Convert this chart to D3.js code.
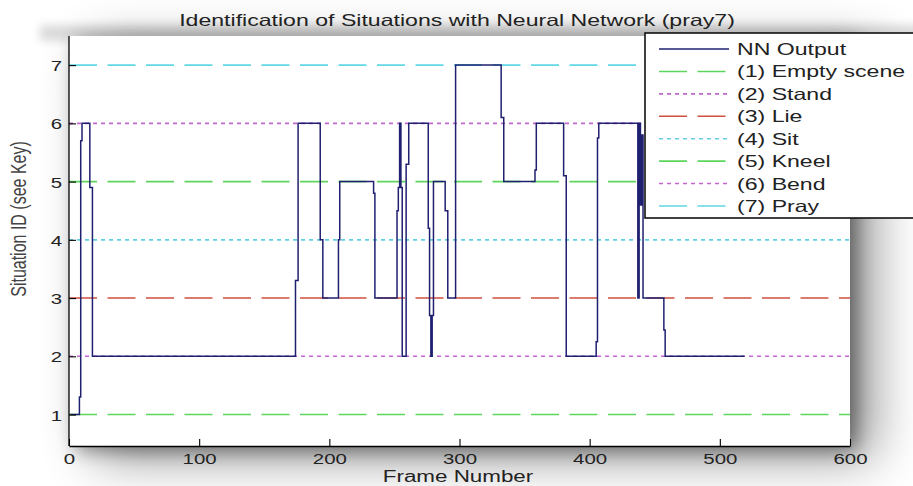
<!DOCTYPE html>
<html>
<head>
<meta charset="utf-8">
<script src="https://cdn.jsdelivr.net/npm/d3@7/dist/d3.min.js"></script>
<style>
  html, body { margin: 0; padding: 0; background: #ffffff; overflow: hidden; }
  svg { display: block; }
</style>
</head>
<body>
<svg id="chart" width="913" height="486"></svg>
<script>
// ---- data -------------------------------------------------------------
// Network output: frame where each new value starts, and that value
const frameNo = [1, 8, 9, 10, 16, 18, 174, 176, 193, 195, 207, 208, 234, 235,
  252, 253, 254, 255, 256, 259, 261, 276, 277, 278, 279, 280, 289, 291, 297,
  332, 334, 358, 359, 380, 382, 405, 406, 407, 437, 438, 439, 440, 441,
  457, 458, 519];
const nnOutput = [1, 1.3, 5.7, 6, 4.9, 2, 3.3, 6, 4, 3, 4, 5, 4.8, 3,
  4.5, 4.9, 6, 4.9, 2, 5.3, 6, 4.2, 2.7, 2, 2.7, 5, 4.5, 3, 7,
  6.1, 5, 5.2, 6, 5.1, 2, 2.25, 5.75, 6, 3, 6, 4.6, 5.8, 3,
  2.45, 2, 2];

// Reference levels, one per situation
const situationIds = [1, 2, 3, 4, 5, 6, 7];
const situationNames = ["(1) Empty scene", "(2) Stand", "(3) Lie", "(4) Sit",
  "(5) Kneel", "(6) Bend", "(7) Pray"];
const nnName = "NN Output";

const xTickValues = [0, 100, 200, 300, 400, 500, 600];
const xTickLabels = ["0", "100", "200", "300", "400", "500", "600"];
const yTickValues = [1, 2, 3, 4, 5, 6, 7];
const yTickLabels = ["1", "2", "3", "4", "5", "6", "7"];

const titleText = "Identification of Situations with Neural Network (pray7)";
const xLabelText = "Frame Number";
const yLabelText = "Situation ID (see Key)";

// ---- styles -----------------------------------------------------------
const DASH = "28,10.5", DOT = "4,4";
const refStyles = [
  { color: "#5ed65e", dash: DASH },  // empty scene
  { color: "#c466d0", dash: DOT },   // stand
  { color: "#d0503f", dash: DASH },  // lie
  { color: "#62d0e2", dash: DOT },   // sit
  { color: "#5ed65e", dash: DASH },  // kneel
  { color: "#c466d0", dash: DOT },   // bend
  { color: "#62d8e4", dash: DASH }   // pray
];
const NAVY = "#202070";
const SX = 1.4;                      // horizontal stretch of all lettering
const FONT = "'Liberation Sans', Arial, Helvetica, sans-serif";

// ---- layout -----------------------------------------------------------
const plot = { left: 69, right: 850, top: 36, bottom: 446 };
const svg = d3.select("#chart");

const x = d3.scaleLinear().domain([0, 600]).range([plot.left, plot.right]);
const y = d3.scaleLinear().domain([0.46, 7.5]).range([plot.bottom, plot.top]);

const defs = svg.append("defs");
function blurFilter(id, sd) {
  defs.append("filter").attr("id", id)
    .attr("x", "-50%").attr("y", "-50%").attr("width", "200%").attr("height", "200%")
    .append("feGaussianBlur").attr("stdDeviation", sd);
}
blurFilter("blurS", 5);
blurFilter("blurM", 9);
blurFilter("blurL", 26);

// soft shading around the axes box
svg.append("rect")
  .attr("x", 40).attr("y", 25).attr("width", 900).attr("height", 16)
  .attr("fill", "#000").attr("opacity", 0.14).attr("filter", "url(#blurS)");
svg.append("rect")
  .attr("x", plot.left + 24).attr("y", plot.top + 12)
  .attr("width", plot.right - plot.left).attr("height", plot.bottom - plot.top)
  .attr("fill", "#000").attr("opacity", 0.42).attr("filter", "url(#blurL)");
svg.append("rect")
  .attr("x", plot.left + 7).attr("y", plot.top + 5)
  .attr("width", plot.right - plot.left).attr("height", plot.bottom - plot.top)
  .attr("fill", "#000").attr("opacity", 0.4).attr("filter", "url(#blurM)");

// axes background
svg.append("rect")
  .attr("x", plot.left).attr("y", plot.top)
  .attr("width", plot.right - plot.left).attr("height", plot.bottom - plot.top)
  .attr("fill", "#ffffff");

// reference levels
svg.append("g").selectAll("line")
  .data(situationIds)
  .join("line")
  .attr("x1", x(0)).attr("x2", x(600))
  .attr("y1", d => y(d)).attr("y2", d => y(d))
  .attr("stroke", (d, i) => refStyles[i].color)
  .attr("stroke-width", 1.6)
  .attr("stroke-dasharray", (d, i) => refStyles[i].dash);

// network output trace (held value until the next change)
const trace = frameNo.map((f, i) => [f, nnOutput[i]]);
svg.append("path")
  .datum(trace)
  .attr("fill", "none")
  .attr("stroke", NAVY)
  .attr("stroke-width", 1.5)
  .attr("d", d3.line().curve(d3.curveStepAfter).x(d => x(d[0])).y(d => y(d[1])));

// axes
function styleAxis(g) {
  g.selectAll(".domain").attr("stroke", "#000").attr("stroke-width", 1.3);
  g.selectAll(".tick line").attr("stroke", "#000").attr("stroke-width", 1.1);
  g.selectAll(".tick text")
    .attr("fill", "#222")
    .style("font-family", FONT)
    .style("font-size", "14.6px");
}
const xAxis = svg.append("g")
  .attr("transform", `translate(0,${plot.bottom})`)
  .call(d3.axisBottom(x).tickValues(xTickValues)
    .tickFormat((d, i) => xTickLabels[i])
    .tickSizeInner(-7).tickSizeOuter(0).tickPadding(10));
styleAxis(xAxis);
xAxis.selectAll(".tick text")
  .attr("y", 0).attr("dy", 0)
  .attr("transform", `translate(0,18) scale(${SX},1)`);

const yAxis = svg.append("g")
  .attr("transform", `translate(${plot.left},0)`)
  .call(d3.axisLeft(y).tickValues(yTickValues)
    .tickFormat((d, i) => yTickLabels[i])
    .tickSizeInner(-7).tickSizeOuter(0));
styleAxis(yAxis);
yAxis.select(".domain").attr("d", `M0,${plot.top}V${plot.bottom}`);
yAxis.selectAll(".tick text")
  .attr("x", 0).attr("dy", 0).attr("y", 0)
  .attr("text-anchor", "end")
  .attr("transform", `translate(-7,5.5) scale(${SX},1)`);

// lettering helper: text stretched horizontally
function label(px, py, str, size, anchor) {
  return svg.append("text")
    .attr("transform", `translate(${px},${py}) scale(${SX},1)`)
    .attr("text-anchor", anchor)
    .attr("fill", "#222")
    .style("font-family", FONT)
    .style("font-size", size + "px")
    .text(str);
}
label(457, 26, titleText, 16.5, "middle");
label(458, 482, xLabelText, 16, "middle");
svg.append("text")
  .attr("transform", `translate(26,219) scale(${SX},1) rotate(-90)`)
  .attr("text-anchor", "middle")
  .attr("fill", "#444")
  .style("font-family", FONT)
  .style("font-size", "16px")
  .text(yLabelText);

// legend
const legend = svg.append("g");
legend.append("rect")
  .attr("x", 645).attr("y", 33).attr("width", 300).attr("height", 185)
  .attr("fill", "#ffffff").attr("stroke", "#111").attr("stroke-width", 1.6);
const legendRows = [{ name: nnName, color: NAVY, dash: null }]
  .concat(situationNames.map((n, i) => ({ name: n, color: refStyles[i].color, dash: refStyles[i].dash })));
const rowY = d3.scaleLinear().domain([0, 7]).range([49, 206]);
legendRows.forEach((r, i) => {
  legend.append("line")
    .attr("x1", 659).attr("x2", 729)
    .attr("y1", rowY(i)).attr("y2", rowY(i))
    .attr("stroke", r.color)
    .attr("stroke-width", 1.6)
    .attr("stroke-dasharray", r.dash);
  label(737, rowY(i) + 6, r.name, 16.5, "start");
});
</script>
</body>
</html>
